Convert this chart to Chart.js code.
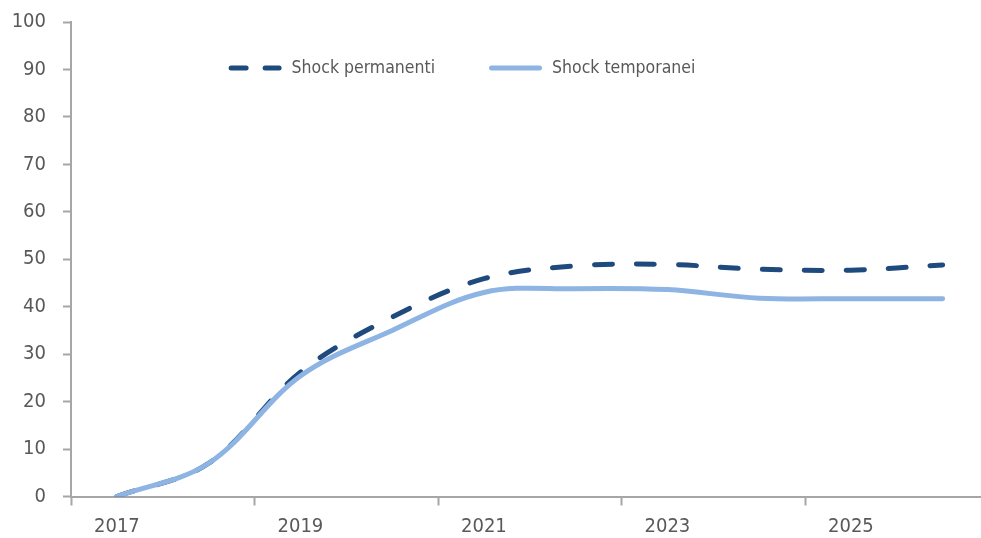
<!DOCTYPE html>
<html>
<head>
<meta charset="utf-8">
<script src="https://cdn.jsdelivr.net/npm/chart.js@4/dist/chart.umd.min.js"></script>
<style>
  html, body { margin: 0; padding: 0; background: #ffffff; overflow: hidden; }
  #wrap { position: relative; width: 981px; height: 538px; }
</style>
</head>
<body>
<div id="wrap"><canvas id="chart" width="981" height="538"></canvas></div>
<script>
// Years on the horizontal axis (one point per year)
const years = [2017, 2018, 2019, 2020, 2021, 2022, 2023, 2024, 2025, 2026];
// Cumulative effect, permanent shocks
const permanenti = [0, 7, 26.2, 37.8, 45.9, 48.6, 48.9, 47.9, 47.7, 48.8];
// Cumulative effect, temporary shocks
const temporanei = [0, 7, 25.4, 35.0, 43.0, 43.8, 43.6, 41.8, 41.7, 41.7];
// Year labels shown under the axis
const tickLabels = ['2017', '2019', '2021', '2023', '2025'];
// Vertical axis ticks
const yTicks = [0, 10, 20, 30, 40, 50, 60, 70, 80, 90, 100];

const FONT = "'DejaVu Sans Condensed', 'DejaVu Sans', sans-serif";
const TEXT = '#595959';
const AXIS = '#a6a6a6';

// Legend drawn inside the plot: a line sample per series followed by its name
const inlineLegend = {
  id: 'inlineLegend',
  afterDraw(chart, args, opts) {
    const ctx = chart.ctx;
    const sample = opts.sampleWidth, gapText = opts.textGap, gapItem = opts.itemGap;
    ctx.save();
    ctx.font = opts.fontSize + 'px ' + FONT;
    const items = chart.data.datasets.map(ds => ({ ds, w: ctx.measureText(ds.label).width }));
    const total = items.reduce((s, it) => s + sample + gapText + it.w, 0) + gapItem * (items.length - 1);
    let x = opts.centerX - total / 2;
    const y = opts.centerY;
    items.forEach(({ ds, w }) => {
      ctx.beginPath();
      ctx.strokeStyle = ds.borderColor;
      ctx.lineWidth = ds.borderWidth;
      ctx.lineCap = ds.borderCapStyle || 'butt';
      ctx.setLineDash(ds.legendDash || ds.borderDash || []);
      const inset = ctx.lineCap === 'round' ? ds.borderWidth / 2 : 0;
      ctx.moveTo(x + inset, y);
      ctx.lineTo(x + sample - inset, y);
      ctx.stroke();
      ctx.setLineDash([]);
      ctx.fillStyle = TEXT;
      ctx.textAlign = 'left';
      ctx.textBaseline = 'middle';
      ctx.fillText(ds.label, x + sample + gapText, y);
      x += sample + gapText + w + gapItem;
    });
    ctx.restore();
  }
};

new Chart(document.getElementById('chart'), {
  type: 'line',
  data: {
    datasets: [
      {
        label: 'Shock permanenti',
        data: years.map((y, i) => ({ x: y, y: permanenti[i] })),
        borderColor: '#1f4a7e',
        backgroundColor: '#1f4a7e',
        borderWidth: 5,
        borderDash: [18, 24],
        legendDash: [15, 19],
        borderCapStyle: 'round',
        pointRadius: 0,
        tension: 0.35,
        fill: false,
        order: 2
      },
      {
        label: 'Shock temporanei',
        data: years.map((y, i) => ({ x: y, y: temporanei[i] })),
        borderColor: '#8db4e2',
        backgroundColor: '#8db4e2',
        borderWidth: 5,
        borderCapStyle: 'round',
        pointRadius: 0,
        tension: 0.35,
        fill: false,
        order: 1
      }
    ]
  },
  options: {
    responsive: false,
    animation: false,
    layout: { padding: { top: 22, right: 0, bottom: 0, left: 0 } },
    plugins: {
      tooltip: { enabled: false },
      legend: { display: false },
      inlineLegend: {
        centerX: 462, centerY: 68,
        sampleWidth: 53, textGap: 10, itemGap: 54,
        fontSize: 17.5
      }
    },
    scales: {
      x: {
        type: 'linear',
        min: years[0] - 0.5,
        max: years[0] - 0.5 + 9.918,
        afterBuildTicks(scale) {
          scale.ticks = tickLabels.map(t => ({ value: Number(t) - 0.5 }));
        },
        afterFit(scale) { scale.height = 41.5; },
        ticks: {
          autoSkip: false,
          maxRotation: 0,
          padding: 9,
          labelOffset: 45.9,
          color: TEXT,
          font: { family: FONT, size: 20 },
          callback: (v) => String(Math.round(v + 0.5))
        },
        grid: {
          drawOnChartArea: false,
          drawTicks: true,
          tickLength: 9,
          tickWidth: 2,
          tickColor: AXIS
        },
        border: { display: true, color: AXIS, width: 2 }
      },
      y: {
        min: 0,
        max: 100,
        afterBuildTicks(scale) {
          scale.ticks = yTicks.map(v => ({ value: v }));
        },
        afterFit(scale) {
          scale.width = 71;
          scale.paddingTop = 10;
          scale.paddingBottom = 10;
        },
        ticks: {
          padding: 17,
          color: TEXT,
          font: { family: FONT, size: 20 }
        },
        grid: {
          drawOnChartArea: false,
          drawTicks: true,
          tickLength: 8,
          tickWidth: 2,
          tickColor: AXIS
        },
        border: { display: true, color: AXIS, width: 2 }
      }
    }
  },
  plugins: [inlineLegend]
});
</script>
</body>
</html>
